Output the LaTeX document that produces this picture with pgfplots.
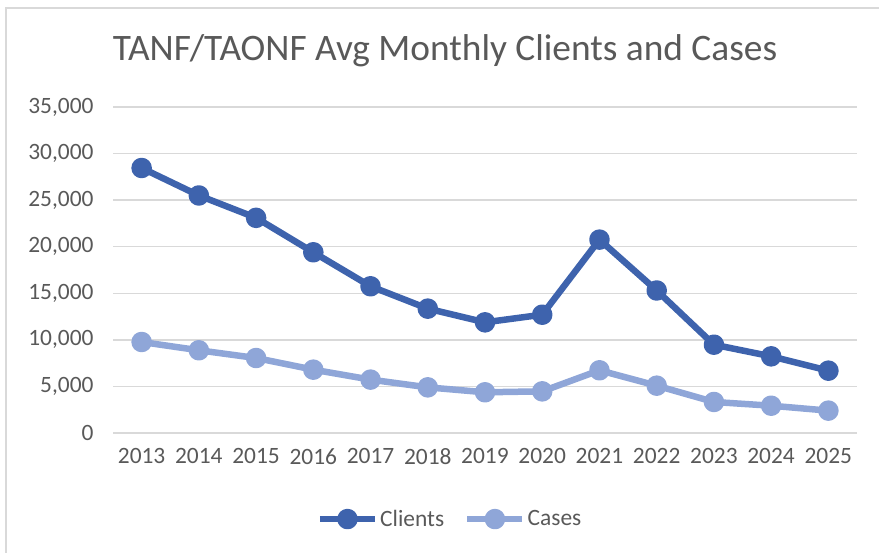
\documentclass[border=0pt]{standalone}
\usepackage{pgfplots}
\pgfplotsset{compat=1.18}
\usepackage{fontspec}
\setmainfont{Carlito}
\definecolor{clients}{HTML}{3E63AD}
\definecolor{cases}{HTML}{8FA6D8}
\definecolor{txt}{HTML}{595959}
\definecolor{gridc}{HTML}{D9D9D9}
\definecolor{framec}{HTML}{D9D9D9}
\begin{document}
\begin{tikzpicture}[x=1bp,y=1bp]
\path[use as bounding box] (0,0) rectangle (879,553);
\draw[framec, line width=1.5bp] (6,-5) -- (6,545) -- (890,545);
\node[text=txt, font=\fontsize{37.5}{40}\selectfont] at (445,502) {TANF/TAONF Avg Monthly Clients and Cases};
\begin{axis}[
  at={(113bp,120bp)}, anchor=south west,
  scale only axis, width=744bp, height=326bp,
  xmin=2012.5, xmax=2025.5, ymin=0, ymax=35000,
  xtick={2013,...,2025}, ytick={0,5000,...,35000},
  axis line style={draw=none}, major tick length=0pt,
  ymajorgrids, grid style={gridc, line width=1.5bp},
  tick label style={text=txt, font=\fontsize{23.5}{26}\selectfont},
  /pgf/number format/assume math mode=true,
  scaled y ticks=false,
  yticklabel style={/pgf/number format/1000 sep={,}, /pgf/number format/fixed, xshift=-16bp},
  xticklabel style={/pgf/number format/1000 sep={}, yshift=-12bp},
  legend columns=2,
  legend style={at={(rel axis cs:0.453,-0.264)}, anchor=center, draw=none, fill=none,
    font=\fontsize{23.5}{26}\selectfont, text=txt,
    /tikz/every even column/.append style={column sep=18bp}},
  legend image code/.code={\draw[#1, mark repeat=2, mark phase=2] plot coordinates {(0bp,0bp) (27.5bp,0bp) (55bp,0bp)};},
  every axis plot/.append style={line width=6.5bp, mark=*, mark size=7bp, line join=round},
]
\addplot[clients, mark options={fill=clients, draw=none}] coordinates {
(2013,28450) (2014,25500) (2015,23100) (2016,19400) (2017,15750) (2018,13350) (2019,11880)
(2020,12700) (2021,20760) (2022,15300) (2023,9480) (2024,8230) (2025,6690)};
\addlegendentry{Clients}
\addplot[cases, mark options={fill=cases, draw=none}] coordinates {
(2013,9770) (2014,8880) (2015,8050) (2016,6800) (2017,5730) (2018,4900) (2019,4370)
(2020,4470) (2021,6730) (2022,5080) (2023,3330) (2024,2930) (2025,2400)};
\addlegendentry{Cases}
\end{axis}
\end{tikzpicture}
\end{document}
